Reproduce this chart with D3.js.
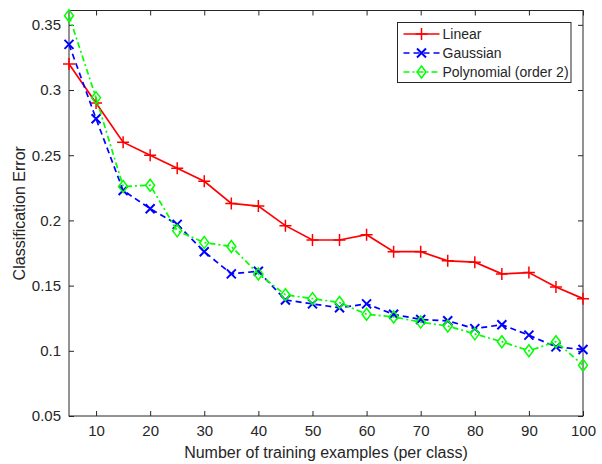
<!DOCTYPE html>
<html>
<head>
<meta charset="utf-8">
<script src="https://cdn.jsdelivr.net/npm/d3@7"></script>
<style>
  body { margin: 0; background: #fff; }
  svg text { font-family: 'Liberation Sans', Arial, sans-serif; fill: #262626; }
</style>
</head>
<body>
<svg id="chart" width="602" height="464"></svg>
<script>
// Data
const trainSizes = [5, 10, 15, 20, 25, 30, 35, 40, 45, 50, 55, 60, 65, 70, 75, 80, 85, 90, 95, 100]
const linearErr = [0.320, 0.290, 0.260, 0.250, 0.240, 0.230, 0.213, 0.211, 0.196, 0.185, 0.185, 0.189, 0.176, 0.176, 0.169, 0.168, 0.159, 0.160, 0.149, 0.140]
const gaussianErr = [0.335, 0.278, 0.223, 0.209, 0.197, 0.176, 0.159, 0.161, 0.139, 0.136, 0.133, 0.136, 0.128, 0.124, 0.123, 0.117, 0.120, 0.112, 0.103, 0.101]
const polyErr = [0.357, 0.294, 0.226, 0.227, 0.192, 0.183, 0.180, 0.159, 0.143, 0.140, 0.137, 0.128, 0.126, 0.122, 0.119, 0.113, 0.107, 0.100, 0.107, 0.089]
const xTicks = [10, 20, 30, 40, 50, 60, 70, 80, 90, 100]
const yTicks = [0.05, 0.1, 0.15, 0.2, 0.25, 0.3, 0.35]
const seriesNames = ['Linear', 'Gaussian', 'Polynomial (order 2)']

const dim = { left: 69, right: 583, top: 10.5, bottom: 416 }
const axisColor = '#262626'

const svg = d3.select('#chart')

const xScale = d3.scaleLinear().domain([5, 100]).range([dim.left, dim.right])
const yScale = d3.scaleLinear().domain([0.05, 0.361]).range([dim.bottom, dim.top])

const series = [
  { name: seriesNames[0], values: linearErr, color: '#ff0000', dash: null, marker: 'plus' },
  { name: seriesNames[1], values: gaussianErr, color: '#0000ff', dash: '6,4', marker: 'cross' },
  { name: seriesNames[2], values: polyErr, color: '#00ff00', dash: '6,3,2,3', marker: 'diamond' }
]

// Axes (box with inward ticks on all four sides)
function drawAxes () {
  const tickLen = 5
  const g = svg.append('g').attr('class', 'axes')

  g.append('g')
    .attr('transform', `translate(0,${dim.bottom})`)
    .call(d3.axisBottom(xScale).tickValues(xTicks).tickSize(-tickLen).tickPadding(9).tickFormat(d3.format('d')))
  g.append('g')
    .attr('transform', `translate(0,${dim.top})`)
    .call(d3.axisTop(xScale).tickValues(xTicks).tickSize(-tickLen).tickFormat(''))
  g.append('g')
    .attr('transform', `translate(${dim.left},0)`)
    .call(d3.axisLeft(yScale).tickValues(yTicks).tickSize(-tickLen).tickPadding(8).tickFormat(d => String(+d.toFixed(2))))
  g.append('g')
    .attr('transform', `translate(${dim.right},0)`)
    .call(d3.axisRight(yScale).tickValues(yTicks).tickSize(-tickLen).tickFormat(''))

  g.selectAll('.tick line').attr('stroke', axisColor)
  g.selectAll('.tick text').style('font-size', '15px').attr('fill', axisColor)
  g.selectAll('.domain').attr('d', null)

  // plain box outline
  svg.append('rect')
    .attr('x', dim.left).attr('y', dim.top)
    .attr('width', dim.right - dim.left).attr('height', dim.bottom - dim.top)
    .attr('fill', 'none').attr('stroke', axisColor).attr('stroke-width', 1)

  svg.append('text')
    .attr('x', (dim.left + dim.right) / 2).attr('y', 458)
    .attr('text-anchor', 'middle').style('font-size', '16px')
    .text('Number of training examples (per class)')
  svg.append('text')
    .attr('transform', `translate(25,${(dim.top + dim.bottom) / 2}) rotate(-90)`)
    .attr('text-anchor', 'middle').style('font-size', '16px')
    .text('Classification Error')
}

function drawMarker (sel, type, color) {
  if (type === 'plus') {
    sel.append('path').attr('d', 'M-6,0H6M0,-6V6')
      .attr('stroke', color).attr('stroke-width', 1.5).attr('fill', 'none')
  } else if (type === 'cross') {
    sel.append('path').attr('d', 'M-4.5,-4.5L4.5,4.5M-4.5,4.5L4.5,-4.5')
      .attr('stroke', color).attr('stroke-width', 2).attr('fill', 'none')
  } else {
    sel.append('path').attr('d', 'M0,-6L4.5,0L0,6L-4.5,0Z')
      .attr('stroke', color).attr('stroke-width', 1.5).attr('fill', 'none')
  }
}

function drawSeries () {
  const line = d3.line()
    .x((d, i) => xScale(trainSizes[i]))
    .y(d => yScale(d))

  series.forEach(s => {
    svg.append('path')
      .datum(s.values)
      .attr('d', line)
      .attr('fill', 'none')
      .attr('stroke', s.color)
      .attr('stroke-width', 1.7)
      .attr('stroke-dasharray', s.dash)

    s.values.forEach((v, i) => {
      const m = svg.append('g').attr('transform', `translate(${xScale(trainSizes[i])},${yScale(v)})`)
      drawMarker(m, s.marker, s.color)
    })
  })
}

function drawLegend () {
  const lg = svg.append('g').attr('transform', 'translate(397.5,22.5)')
  lg.append('rect').attr('width', 173.5).attr('height', 60)
    .attr('fill', '#fff').attr('stroke', axisColor).attr('stroke-width', 1)
  series.forEach((s, i) => {
    const y = 11.5 + i * 19
    lg.append('line').attr('x1', 6).attr('x2', 42).attr('y1', y).attr('y2', y)
      .attr('stroke', s.color).attr('stroke-width', 1.7).attr('stroke-dasharray', s.dash)
    drawMarker(lg.append('g').attr('transform', `translate(24,${y})`), s.marker, s.color)
    lg.append('text').attr('x', 45).attr('y', y + 5).style('font-size', '14px').text(s.name)
  })
}

drawAxes()
drawSeries()
drawLegend()
</script>
</body>
</html>
